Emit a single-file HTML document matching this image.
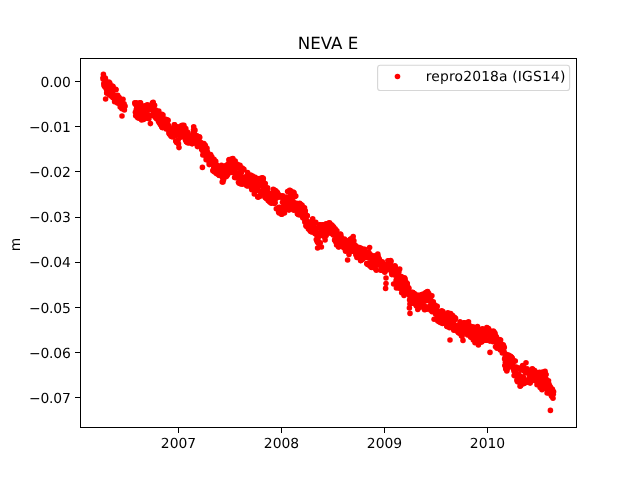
<!DOCTYPE html>
<html lang="en">
<head>
<meta charset="utf-8">
<title>NEVA E</title>
<style>html,body{margin:0;padding:0;background:#fff;overflow:hidden}svg{will-change:transform;-webkit-font-smoothing:antialiased}text{text-rendering:geometricPrecision}body{width:640px;height:480px}</style>
</head>
<body>
<svg width="640" height="480" viewBox="0 0 640 480" style="display:block;font-family:'DejaVu Sans','Liberation Sans',sans-serif">
<rect x="0" y="0" width="640" height="480" fill="#ffffff"/>
<g fill="#ff0000"><circle cx="103.0" cy="78.9" r="2.78"/><circle cx="103.3" cy="77.5" r="2.78"/><circle cx="103.6" cy="77.3" r="2.78"/><circle cx="103.8" cy="83.5" r="2.78"/><circle cx="104.1" cy="85.6" r="2.78"/><circle cx="104.4" cy="86.0" r="2.78"/><circle cx="104.7" cy="84.6" r="2.78"/><circle cx="105.0" cy="86.9" r="2.78"/><circle cx="105.3" cy="78.0" r="2.78"/><circle cx="105.5" cy="79.0" r="2.78"/><circle cx="105.8" cy="84.1" r="2.78"/><circle cx="106.1" cy="83.9" r="2.78"/><circle cx="106.4" cy="89.2" r="2.78"/><circle cx="106.7" cy="92.9" r="2.78"/><circle cx="106.9" cy="93.0" r="2.78"/><circle cx="107.2" cy="82.8" r="2.78"/><circle cx="107.5" cy="85.6" r="2.78"/><circle cx="107.8" cy="89.8" r="2.78"/><circle cx="108.1" cy="83.2" r="2.78"/><circle cx="108.4" cy="91.9" r="2.78"/><circle cx="108.6" cy="86.7" r="2.78"/><circle cx="108.9" cy="82.1" r="2.78"/><circle cx="109.2" cy="94.8" r="2.78"/><circle cx="109.5" cy="82.9" r="2.78"/><circle cx="109.8" cy="83.4" r="2.78"/><circle cx="110.0" cy="89.7" r="2.78"/><circle cx="110.3" cy="90.1" r="2.78"/><circle cx="110.6" cy="94.6" r="2.78"/><circle cx="110.9" cy="96.1" r="2.78"/><circle cx="111.2" cy="87.9" r="2.78"/><circle cx="111.5" cy="91.6" r="2.78"/><circle cx="111.7" cy="86.8" r="2.78"/><circle cx="112.0" cy="87.6" r="2.78"/><circle cx="112.3" cy="86.1" r="2.78"/><circle cx="112.6" cy="91.2" r="2.78"/><circle cx="112.9" cy="97.8" r="2.78"/><circle cx="113.1" cy="86.5" r="2.78"/><circle cx="113.4" cy="89.8" r="2.78"/><circle cx="113.7" cy="94.9" r="2.78"/><circle cx="114.0" cy="96.1" r="2.78"/><circle cx="114.3" cy="97.6" r="2.78"/><circle cx="114.6" cy="101.8" r="2.78"/><circle cx="114.8" cy="101.0" r="2.78"/><circle cx="115.1" cy="98.7" r="2.78"/><circle cx="115.4" cy="99.3" r="2.78"/><circle cx="115.7" cy="89.4" r="2.78"/><circle cx="116.0" cy="89.7" r="2.78"/><circle cx="116.2" cy="100.4" r="2.78"/><circle cx="116.5" cy="100.1" r="2.78"/><circle cx="116.8" cy="96.4" r="2.78"/><circle cx="117.1" cy="100.9" r="2.78"/><circle cx="117.4" cy="103.1" r="2.78"/><circle cx="117.7" cy="95.4" r="2.78"/><circle cx="117.9" cy="100.5" r="2.78"/><circle cx="118.2" cy="101.5" r="2.78"/><circle cx="118.5" cy="100.4" r="2.78"/><circle cx="118.8" cy="97.3" r="2.78"/><circle cx="119.1" cy="97.5" r="2.78"/><circle cx="119.3" cy="98.9" r="2.78"/><circle cx="119.6" cy="99.8" r="2.78"/><circle cx="119.9" cy="103.5" r="2.78"/><circle cx="120.2" cy="107.1" r="2.78"/><circle cx="120.5" cy="104.1" r="2.78"/><circle cx="120.8" cy="105.3" r="2.78"/><circle cx="121.0" cy="103.4" r="2.78"/><circle cx="121.3" cy="103.7" r="2.78"/><circle cx="121.6" cy="106.9" r="2.78"/><circle cx="121.9" cy="108.7" r="2.78"/><circle cx="122.2" cy="103.6" r="2.78"/><circle cx="122.4" cy="107.3" r="2.78"/><circle cx="122.7" cy="104.7" r="2.78"/><circle cx="123.0" cy="99.3" r="2.78"/><circle cx="123.3" cy="104.6" r="2.78"/><circle cx="123.6" cy="105.8" r="2.78"/><circle cx="123.9" cy="106.2" r="2.78"/><circle cx="124.1" cy="103.9" r="2.78"/><circle cx="124.4" cy="109.9" r="2.78"/><circle cx="124.7" cy="106.5" r="2.78"/><circle cx="125.0" cy="106.0" r="2.78"/><circle cx="134.8" cy="102.8" r="2.78"/><circle cx="135.1" cy="103.9" r="2.78"/><circle cx="135.4" cy="112.3" r="2.78"/><circle cx="135.7" cy="115.8" r="2.78"/><circle cx="136.0" cy="104.8" r="2.78"/><circle cx="136.3" cy="109.6" r="2.78"/><circle cx="136.5" cy="102.8" r="2.78"/><circle cx="136.8" cy="107.2" r="2.78"/><circle cx="137.1" cy="107.0" r="2.78"/><circle cx="137.4" cy="117.2" r="2.78"/><circle cx="137.7" cy="111.7" r="2.78"/><circle cx="137.9" cy="113.4" r="2.78"/><circle cx="138.2" cy="117.9" r="2.78"/><circle cx="138.5" cy="112.5" r="2.78"/><circle cx="138.8" cy="114.7" r="2.78"/><circle cx="139.1" cy="116.8" r="2.78"/><circle cx="139.4" cy="118.3" r="2.78"/><circle cx="139.6" cy="116.8" r="2.78"/><circle cx="139.9" cy="102.8" r="2.78"/><circle cx="140.2" cy="106.6" r="2.78"/><circle cx="140.5" cy="102.8" r="2.78"/><circle cx="140.8" cy="117.7" r="2.78"/><circle cx="141.0" cy="112.4" r="2.78"/><circle cx="141.3" cy="108.5" r="2.78"/><circle cx="141.6" cy="120.0" r="2.78"/><circle cx="141.9" cy="118.6" r="2.78"/><circle cx="142.2" cy="113.2" r="2.78"/><circle cx="142.5" cy="113.9" r="2.78"/><circle cx="142.7" cy="106.0" r="2.78"/><circle cx="143.0" cy="113.4" r="2.78"/><circle cx="143.3" cy="110.9" r="2.78"/><circle cx="143.6" cy="119.4" r="2.78"/><circle cx="143.9" cy="117.3" r="2.78"/><circle cx="144.1" cy="117.4" r="2.78"/><circle cx="144.4" cy="113.0" r="2.78"/><circle cx="144.7" cy="114.6" r="2.78"/><circle cx="145.0" cy="105.8" r="2.78"/><circle cx="145.3" cy="108.2" r="2.78"/><circle cx="145.6" cy="106.3" r="2.78"/><circle cx="145.8" cy="113.8" r="2.78"/><circle cx="146.1" cy="116.6" r="2.78"/><circle cx="146.4" cy="115.5" r="2.78"/><circle cx="146.7" cy="118.3" r="2.78"/><circle cx="147.0" cy="115.1" r="2.78"/><circle cx="147.2" cy="104.9" r="2.78"/><circle cx="147.5" cy="109.0" r="2.78"/><circle cx="147.8" cy="105.2" r="2.78"/><circle cx="148.1" cy="108.0" r="2.78"/><circle cx="148.4" cy="109.6" r="2.78"/><circle cx="148.7" cy="114.9" r="2.78"/><circle cx="148.9" cy="118.8" r="2.78"/><circle cx="149.2" cy="108.0" r="2.78"/><circle cx="149.5" cy="115.7" r="2.78"/><circle cx="149.8" cy="105.7" r="2.78"/><circle cx="150.1" cy="115.8" r="2.78"/><circle cx="150.3" cy="115.5" r="2.78"/><circle cx="150.6" cy="107.5" r="2.78"/><circle cx="150.9" cy="105.4" r="2.78"/><circle cx="151.2" cy="109.4" r="2.78"/><circle cx="151.5" cy="105.8" r="2.78"/><circle cx="151.8" cy="105.4" r="2.78"/><circle cx="152.0" cy="106.5" r="2.78"/><circle cx="152.3" cy="103.2" r="2.78"/><circle cx="152.6" cy="102.9" r="2.78"/><circle cx="152.9" cy="107.1" r="2.78"/><circle cx="153.2" cy="102.3" r="2.78"/><circle cx="153.4" cy="104.6" r="2.78"/><circle cx="153.7" cy="112.4" r="2.78"/><circle cx="154.0" cy="112.4" r="2.78"/><circle cx="154.3" cy="116.0" r="2.78"/><circle cx="154.6" cy="105.2" r="2.78"/><circle cx="154.9" cy="116.7" r="2.78"/><circle cx="155.1" cy="110.3" r="2.78"/><circle cx="155.4" cy="109.8" r="2.78"/><circle cx="155.7" cy="117.7" r="2.78"/><circle cx="156.0" cy="114.4" r="2.78"/><circle cx="156.3" cy="116.0" r="2.78"/><circle cx="156.5" cy="118.7" r="2.78"/><circle cx="156.8" cy="113.1" r="2.78"/><circle cx="157.1" cy="117.1" r="2.78"/><circle cx="157.4" cy="114.0" r="2.78"/><circle cx="157.7" cy="111.8" r="2.78"/><circle cx="158.0" cy="116.4" r="2.78"/><circle cx="158.2" cy="111.5" r="2.78"/><circle cx="158.5" cy="121.6" r="2.78"/><circle cx="158.8" cy="111.1" r="2.78"/><circle cx="159.1" cy="121.6" r="2.78"/><circle cx="159.4" cy="123.0" r="2.78"/><circle cx="159.6" cy="121.8" r="2.78"/><circle cx="159.9" cy="118.6" r="2.78"/><circle cx="160.2" cy="114.8" r="2.78"/><circle cx="160.5" cy="124.8" r="2.78"/><circle cx="160.8" cy="114.5" r="2.78"/><circle cx="161.1" cy="119.7" r="2.78"/><circle cx="161.3" cy="114.7" r="2.78"/><circle cx="161.6" cy="126.6" r="2.78"/><circle cx="161.9" cy="114.4" r="2.78"/><circle cx="162.2" cy="127.4" r="2.78"/><circle cx="162.5" cy="127.6" r="2.78"/><circle cx="162.7" cy="123.3" r="2.78"/><circle cx="163.0" cy="115.0" r="2.78"/><circle cx="163.3" cy="121.4" r="2.78"/><circle cx="163.6" cy="118.7" r="2.78"/><circle cx="163.9" cy="123.4" r="2.78"/><circle cx="164.2" cy="124.7" r="2.78"/><circle cx="164.4" cy="125.8" r="2.78"/><circle cx="164.7" cy="120.2" r="2.78"/><circle cx="165.0" cy="122.1" r="2.78"/><circle cx="165.3" cy="123.4" r="2.78"/><circle cx="165.6" cy="124.2" r="2.78"/><circle cx="165.8" cy="119.3" r="2.78"/><circle cx="166.1" cy="129.0" r="2.78"/><circle cx="166.4" cy="125.5" r="2.78"/><circle cx="166.7" cy="123.4" r="2.78"/><circle cx="167.0" cy="122.5" r="2.78"/><circle cx="167.3" cy="124.8" r="2.78"/><circle cx="167.5" cy="120.1" r="2.78"/><circle cx="167.8" cy="127.6" r="2.78"/><circle cx="168.1" cy="120.4" r="2.78"/><circle cx="168.4" cy="125.4" r="2.78"/><circle cx="168.7" cy="127.1" r="2.78"/><circle cx="168.9" cy="133.0" r="2.78"/><circle cx="169.2" cy="131.3" r="2.78"/><circle cx="169.5" cy="134.2" r="2.78"/><circle cx="169.8" cy="128.5" r="2.78"/><circle cx="170.1" cy="133.2" r="2.78"/><circle cx="170.4" cy="133.2" r="2.78"/><circle cx="170.6" cy="134.1" r="2.78"/><circle cx="170.9" cy="135.9" r="2.78"/><circle cx="171.2" cy="131.6" r="2.78"/><circle cx="171.5" cy="136.6" r="2.78"/><circle cx="171.8" cy="133.6" r="2.78"/><circle cx="172.0" cy="132.7" r="2.78"/><circle cx="172.3" cy="129.4" r="2.78"/><circle cx="172.6" cy="135.6" r="2.78"/><circle cx="172.9" cy="133.1" r="2.78"/><circle cx="173.2" cy="136.9" r="2.78"/><circle cx="173.5" cy="133.9" r="2.78"/><circle cx="173.7" cy="135.3" r="2.78"/><circle cx="174.0" cy="126.5" r="2.78"/><circle cx="174.3" cy="124.7" r="2.78"/><circle cx="174.6" cy="124.9" r="2.78"/><circle cx="174.9" cy="132.7" r="2.78"/><circle cx="175.1" cy="133.0" r="2.78"/><circle cx="175.4" cy="126.2" r="2.78"/><circle cx="175.7" cy="141.0" r="2.78"/><circle cx="176.0" cy="135.4" r="2.78"/><circle cx="176.3" cy="127.9" r="2.78"/><circle cx="176.5" cy="142.4" r="2.78"/><circle cx="176.8" cy="130.8" r="2.78"/><circle cx="177.1" cy="127.0" r="2.78"/><circle cx="177.4" cy="127.3" r="2.78"/><circle cx="177.7" cy="127.5" r="2.78"/><circle cx="178.0" cy="135.0" r="2.78"/><circle cx="178.2" cy="140.1" r="2.78"/><circle cx="178.5" cy="143.9" r="2.78"/><circle cx="178.8" cy="131.5" r="2.78"/><circle cx="179.1" cy="127.1" r="2.78"/><circle cx="179.4" cy="132.9" r="2.78"/><circle cx="179.6" cy="127.4" r="2.78"/><circle cx="179.9" cy="131.1" r="2.78"/><circle cx="180.2" cy="130.7" r="2.78"/><circle cx="180.5" cy="129.2" r="2.78"/><circle cx="180.8" cy="137.3" r="2.78"/><circle cx="181.1" cy="131.1" r="2.78"/><circle cx="181.3" cy="125.7" r="2.78"/><circle cx="181.6" cy="130.9" r="2.78"/><circle cx="181.9" cy="128.6" r="2.78"/><circle cx="182.2" cy="125.4" r="2.78"/><circle cx="182.5" cy="129.8" r="2.78"/><circle cx="182.7" cy="136.4" r="2.78"/><circle cx="183.0" cy="129.0" r="2.78"/><circle cx="183.3" cy="132.2" r="2.78"/><circle cx="183.6" cy="136.0" r="2.78"/><circle cx="183.9" cy="125.2" r="2.78"/><circle cx="184.2" cy="127.6" r="2.78"/><circle cx="184.4" cy="128.3" r="2.78"/><circle cx="184.7" cy="130.0" r="2.78"/><circle cx="185.0" cy="130.8" r="2.78"/><circle cx="185.3" cy="138.1" r="2.78"/><circle cx="185.6" cy="140.3" r="2.78"/><circle cx="185.8" cy="128.5" r="2.78"/><circle cx="186.1" cy="135.8" r="2.78"/><circle cx="186.4" cy="141.8" r="2.78"/><circle cx="186.7" cy="142.0" r="2.78"/><circle cx="187.0" cy="142.0" r="2.78"/><circle cx="187.3" cy="136.5" r="2.78"/><circle cx="187.5" cy="132.0" r="2.78"/><circle cx="187.8" cy="134.4" r="2.78"/><circle cx="188.1" cy="143.0" r="2.78"/><circle cx="188.4" cy="135.8" r="2.78"/><circle cx="188.7" cy="139.0" r="2.78"/><circle cx="188.9" cy="135.9" r="2.78"/><circle cx="189.2" cy="140.4" r="2.78"/><circle cx="189.5" cy="142.7" r="2.78"/><circle cx="189.8" cy="139.9" r="2.78"/><circle cx="190.1" cy="136.3" r="2.78"/><circle cx="190.4" cy="137.7" r="2.78"/><circle cx="190.6" cy="138.0" r="2.78"/><circle cx="190.9" cy="139.5" r="2.78"/><circle cx="191.2" cy="139.6" r="2.78"/><circle cx="191.5" cy="139.5" r="2.78"/><circle cx="191.8" cy="136.7" r="2.78"/><circle cx="192.0" cy="143.7" r="2.78"/><circle cx="192.3" cy="143.6" r="2.78"/><circle cx="192.6" cy="139.5" r="2.78"/><circle cx="192.9" cy="133.1" r="2.78"/><circle cx="193.2" cy="137.9" r="2.78"/><circle cx="193.5" cy="130.1" r="2.78"/><circle cx="193.7" cy="126.8" r="2.78"/><circle cx="194.0" cy="134.3" r="2.78"/><circle cx="194.3" cy="134.7" r="2.78"/><circle cx="194.6" cy="130.9" r="2.78"/><circle cx="194.9" cy="130.0" r="2.78"/><circle cx="195.1" cy="138.5" r="2.78"/><circle cx="195.4" cy="138.0" r="2.78"/><circle cx="195.7" cy="137.3" r="2.78"/><circle cx="196.0" cy="143.6" r="2.78"/><circle cx="196.3" cy="139.7" r="2.78"/><circle cx="196.6" cy="135.9" r="2.78"/><circle cx="196.8" cy="135.7" r="2.78"/><circle cx="197.1" cy="141.4" r="2.78"/><circle cx="197.4" cy="146.6" r="2.78"/><circle cx="197.7" cy="139.5" r="2.78"/><circle cx="198.0" cy="139.5" r="2.78"/><circle cx="198.2" cy="143.1" r="2.78"/><circle cx="198.5" cy="143.7" r="2.78"/><circle cx="198.8" cy="142.7" r="2.78"/><circle cx="199.1" cy="144.3" r="2.78"/><circle cx="199.4" cy="136.8" r="2.78"/><circle cx="199.7" cy="137.5" r="2.78"/><circle cx="199.9" cy="141.7" r="2.78"/><circle cx="200.2" cy="142.5" r="2.78"/><circle cx="200.5" cy="144.9" r="2.78"/><circle cx="200.8" cy="145.4" r="2.78"/><circle cx="201.1" cy="142.8" r="2.78"/><circle cx="201.3" cy="143.9" r="2.78"/><circle cx="201.6" cy="149.6" r="2.78"/><circle cx="201.9" cy="148.0" r="2.78"/><circle cx="202.2" cy="149.4" r="2.78"/><circle cx="202.5" cy="150.0" r="2.78"/><circle cx="202.8" cy="155.0" r="2.78"/><circle cx="203.0" cy="150.8" r="2.78"/><circle cx="203.3" cy="151.5" r="2.78"/><circle cx="203.6" cy="152.2" r="2.78"/><circle cx="203.9" cy="143.5" r="2.78"/><circle cx="204.2" cy="151.7" r="2.78"/><circle cx="204.4" cy="153.9" r="2.78"/><circle cx="204.7" cy="147.5" r="2.78"/><circle cx="205.0" cy="151.0" r="2.78"/><circle cx="205.3" cy="145.3" r="2.78"/><circle cx="205.6" cy="150.0" r="2.78"/><circle cx="205.9" cy="156.5" r="2.78"/><circle cx="206.1" cy="159.7" r="2.78"/><circle cx="206.4" cy="150.8" r="2.78"/><circle cx="206.7" cy="157.6" r="2.78"/><circle cx="207.0" cy="148.4" r="2.78"/><circle cx="207.3" cy="156.3" r="2.78"/><circle cx="207.5" cy="152.0" r="2.78"/><circle cx="207.8" cy="155.5" r="2.78"/><circle cx="208.1" cy="155.1" r="2.78"/><circle cx="208.4" cy="160.4" r="2.78"/><circle cx="208.7" cy="159.4" r="2.78"/><circle cx="209.0" cy="159.2" r="2.78"/><circle cx="209.2" cy="164.6" r="2.78"/><circle cx="209.5" cy="163.3" r="2.78"/><circle cx="209.8" cy="163.7" r="2.78"/><circle cx="210.1" cy="158.4" r="2.78"/><circle cx="210.4" cy="159.9" r="2.78"/><circle cx="210.6" cy="154.6" r="2.78"/><circle cx="210.9" cy="161.0" r="2.78"/><circle cx="211.2" cy="163.6" r="2.78"/><circle cx="211.5" cy="158.3" r="2.78"/><circle cx="211.8" cy="156.8" r="2.78"/><circle cx="212.1" cy="161.6" r="2.78"/><circle cx="212.3" cy="164.2" r="2.78"/><circle cx="212.6" cy="162.6" r="2.78"/><circle cx="212.9" cy="170.6" r="2.78"/><circle cx="213.2" cy="170.9" r="2.78"/><circle cx="213.5" cy="162.9" r="2.78"/><circle cx="213.7" cy="168.4" r="2.78"/><circle cx="214.0" cy="159.2" r="2.78"/><circle cx="214.3" cy="168.4" r="2.78"/><circle cx="214.6" cy="172.0" r="2.78"/><circle cx="214.9" cy="168.3" r="2.78"/><circle cx="215.2" cy="170.4" r="2.78"/><circle cx="215.4" cy="167.3" r="2.78"/><circle cx="215.7" cy="161.4" r="2.78"/><circle cx="216.0" cy="168.7" r="2.78"/><circle cx="216.3" cy="173.6" r="2.78"/><circle cx="216.6" cy="168.8" r="2.78"/><circle cx="216.8" cy="165.1" r="2.78"/><circle cx="217.1" cy="169.6" r="2.78"/><circle cx="217.4" cy="168.6" r="2.78"/><circle cx="217.7" cy="172.1" r="2.78"/><circle cx="218.0" cy="169.9" r="2.78"/><circle cx="218.3" cy="171.3" r="2.78"/><circle cx="218.5" cy="174.4" r="2.78"/><circle cx="218.8" cy="166.8" r="2.78"/><circle cx="219.1" cy="175.2" r="2.78"/><circle cx="219.4" cy="175.5" r="2.78"/><circle cx="219.7" cy="174.9" r="2.78"/><circle cx="219.9" cy="171.4" r="2.78"/><circle cx="220.2" cy="172.4" r="2.78"/><circle cx="220.5" cy="169.1" r="2.78"/><circle cx="220.8" cy="173.0" r="2.78"/><circle cx="221.1" cy="173.1" r="2.78"/><circle cx="221.4" cy="165.4" r="2.78"/><circle cx="221.6" cy="176.1" r="2.78"/><circle cx="221.9" cy="175.7" r="2.78"/><circle cx="222.2" cy="182.0" r="2.78"/><circle cx="222.5" cy="176.8" r="2.78"/><circle cx="222.8" cy="178.2" r="2.78"/><circle cx="223.0" cy="175.4" r="2.78"/><circle cx="223.3" cy="175.8" r="2.78"/><circle cx="223.6" cy="179.7" r="2.78"/><circle cx="223.9" cy="176.7" r="2.78"/><circle cx="224.2" cy="176.3" r="2.78"/><circle cx="224.5" cy="172.0" r="2.78"/><circle cx="224.7" cy="170.7" r="2.78"/><circle cx="225.0" cy="165.8" r="2.78"/><circle cx="225.3" cy="166.7" r="2.78"/><circle cx="225.6" cy="167.6" r="2.78"/><circle cx="225.9" cy="172.6" r="2.78"/><circle cx="226.1" cy="167.7" r="2.78"/><circle cx="226.4" cy="176.6" r="2.78"/><circle cx="226.7" cy="171.3" r="2.78"/><circle cx="227.0" cy="173.3" r="2.78"/><circle cx="227.3" cy="175.3" r="2.78"/><circle cx="227.6" cy="164.6" r="2.78"/><circle cx="227.8" cy="171.6" r="2.78"/><circle cx="228.1" cy="173.5" r="2.78"/><circle cx="228.4" cy="163.9" r="2.78"/><circle cx="228.7" cy="171.5" r="2.78"/><circle cx="229.0" cy="160.1" r="2.78"/><circle cx="229.2" cy="159.5" r="2.78"/><circle cx="229.5" cy="162.8" r="2.78"/><circle cx="229.8" cy="163.0" r="2.78"/><circle cx="230.1" cy="161.8" r="2.78"/><circle cx="230.4" cy="161.6" r="2.78"/><circle cx="230.7" cy="167.9" r="2.78"/><circle cx="230.9" cy="172.5" r="2.78"/><circle cx="231.2" cy="163.4" r="2.78"/><circle cx="231.5" cy="167.4" r="2.78"/><circle cx="231.8" cy="160.5" r="2.78"/><circle cx="232.1" cy="158.7" r="2.78"/><circle cx="232.3" cy="167.0" r="2.78"/><circle cx="232.6" cy="163.1" r="2.78"/><circle cx="232.9" cy="158.6" r="2.78"/><circle cx="233.2" cy="171.1" r="2.78"/><circle cx="233.5" cy="172.5" r="2.78"/><circle cx="233.8" cy="171.9" r="2.78"/><circle cx="234.0" cy="171.1" r="2.78"/><circle cx="234.3" cy="168.6" r="2.78"/><circle cx="234.6" cy="177.4" r="2.78"/><circle cx="234.9" cy="169.9" r="2.78"/><circle cx="235.2" cy="161.0" r="2.78"/><circle cx="235.4" cy="173.5" r="2.78"/><circle cx="235.7" cy="173.1" r="2.78"/><circle cx="236.0" cy="177.7" r="2.78"/><circle cx="236.3" cy="164.6" r="2.78"/><circle cx="236.6" cy="172.7" r="2.78"/><circle cx="236.9" cy="166.8" r="2.78"/><circle cx="237.1" cy="173.5" r="2.78"/><circle cx="237.4" cy="164.3" r="2.78"/><circle cx="237.7" cy="174.4" r="2.78"/><circle cx="238.0" cy="173.7" r="2.78"/><circle cx="238.3" cy="167.7" r="2.78"/><circle cx="238.5" cy="182.2" r="2.78"/><circle cx="238.8" cy="173.9" r="2.78"/><circle cx="239.1" cy="183.3" r="2.78"/><circle cx="239.4" cy="177.1" r="2.78"/><circle cx="239.7" cy="174.8" r="2.78"/><circle cx="240.0" cy="165.2" r="2.78"/><circle cx="240.2" cy="179.3" r="2.78"/><circle cx="240.5" cy="171.7" r="2.78"/><circle cx="240.8" cy="184.0" r="2.78"/><circle cx="241.1" cy="179.3" r="2.78"/><circle cx="241.4" cy="176.3" r="2.78"/><circle cx="241.6" cy="172.3" r="2.78"/><circle cx="241.9" cy="179.7" r="2.78"/><circle cx="242.2" cy="168.0" r="2.78"/><circle cx="242.5" cy="184.2" r="2.78"/><circle cx="242.8" cy="181.1" r="2.78"/><circle cx="243.1" cy="182.7" r="2.78"/><circle cx="243.3" cy="169.4" r="2.78"/><circle cx="243.6" cy="182.0" r="2.78"/><circle cx="243.9" cy="169.4" r="2.78"/><circle cx="244.2" cy="183.4" r="2.78"/><circle cx="244.5" cy="183.1" r="2.78"/><circle cx="244.7" cy="183.0" r="2.78"/><circle cx="245.0" cy="181.6" r="2.78"/><circle cx="245.3" cy="181.3" r="2.78"/><circle cx="245.6" cy="180.8" r="2.78"/><circle cx="245.9" cy="178.7" r="2.78"/><circle cx="246.2" cy="182.0" r="2.78"/><circle cx="246.4" cy="176.4" r="2.78"/><circle cx="246.7" cy="185.7" r="2.78"/><circle cx="247.0" cy="177.2" r="2.78"/><circle cx="247.3" cy="183.6" r="2.78"/><circle cx="247.6" cy="172.6" r="2.78"/><circle cx="247.8" cy="186.0" r="2.78"/><circle cx="248.1" cy="181.6" r="2.78"/><circle cx="248.4" cy="181.0" r="2.78"/><circle cx="248.7" cy="175.9" r="2.78"/><circle cx="249.0" cy="176.1" r="2.78"/><circle cx="249.3" cy="180.4" r="2.78"/><circle cx="249.5" cy="179.3" r="2.78"/><circle cx="249.8" cy="178.2" r="2.78"/><circle cx="250.1" cy="184.4" r="2.78"/><circle cx="250.4" cy="181.4" r="2.78"/><circle cx="250.7" cy="175.1" r="2.78"/><circle cx="250.9" cy="182.0" r="2.78"/><circle cx="251.2" cy="181.4" r="2.78"/><circle cx="251.5" cy="188.2" r="2.78"/><circle cx="251.8" cy="189.7" r="2.78"/><circle cx="252.1" cy="184.6" r="2.78"/><circle cx="252.4" cy="182.2" r="2.78"/><circle cx="252.6" cy="176.1" r="2.78"/><circle cx="252.9" cy="183.0" r="2.78"/><circle cx="253.2" cy="181.0" r="2.78"/><circle cx="253.5" cy="183.8" r="2.78"/><circle cx="253.8" cy="178.1" r="2.78"/><circle cx="254.0" cy="178.5" r="2.78"/><circle cx="254.3" cy="194.0" r="2.78"/><circle cx="254.6" cy="180.7" r="2.78"/><circle cx="254.9" cy="183.1" r="2.78"/><circle cx="255.2" cy="177.4" r="2.78"/><circle cx="255.5" cy="191.4" r="2.78"/><circle cx="255.7" cy="185.0" r="2.78"/><circle cx="256.0" cy="187.0" r="2.78"/><circle cx="256.3" cy="186.3" r="2.78"/><circle cx="256.6" cy="180.7" r="2.78"/><circle cx="256.9" cy="188.9" r="2.78"/><circle cx="257.1" cy="183.1" r="2.78"/><circle cx="257.4" cy="188.4" r="2.78"/><circle cx="257.7" cy="197.0" r="2.78"/><circle cx="258.0" cy="178.8" r="2.78"/><circle cx="258.3" cy="197.1" r="2.78"/><circle cx="258.6" cy="196.5" r="2.78"/><circle cx="258.8" cy="183.9" r="2.78"/><circle cx="259.1" cy="185.6" r="2.78"/><circle cx="259.4" cy="178.5" r="2.78"/><circle cx="259.7" cy="196.5" r="2.78"/><circle cx="260.0" cy="184.2" r="2.78"/><circle cx="260.2" cy="184.4" r="2.78"/><circle cx="260.5" cy="191.6" r="2.78"/><circle cx="260.8" cy="193.1" r="2.78"/><circle cx="261.1" cy="185.8" r="2.78"/><circle cx="261.4" cy="184.1" r="2.78"/><circle cx="261.7" cy="183.6" r="2.78"/><circle cx="261.9" cy="178.0" r="2.78"/><circle cx="262.2" cy="177.9" r="2.78"/><circle cx="262.5" cy="183.5" r="2.78"/><circle cx="262.8" cy="187.2" r="2.78"/><circle cx="263.1" cy="180.4" r="2.78"/><circle cx="263.3" cy="178.4" r="2.78"/><circle cx="263.6" cy="187.7" r="2.78"/><circle cx="263.9" cy="185.4" r="2.78"/><circle cx="264.2" cy="190.3" r="2.78"/><circle cx="264.5" cy="194.6" r="2.78"/><circle cx="264.8" cy="197.0" r="2.78"/><circle cx="265.0" cy="187.2" r="2.78"/><circle cx="265.3" cy="183.6" r="2.78"/><circle cx="265.6" cy="197.8" r="2.78"/><circle cx="265.9" cy="194.7" r="2.78"/><circle cx="266.2" cy="198.4" r="2.78"/><circle cx="266.4" cy="191.0" r="2.78"/><circle cx="266.7" cy="194.6" r="2.78"/><circle cx="267.0" cy="196.7" r="2.78"/><circle cx="267.3" cy="191.0" r="2.78"/><circle cx="267.6" cy="187.9" r="2.78"/><circle cx="267.9" cy="193.7" r="2.78"/><circle cx="268.1" cy="200.4" r="2.78"/><circle cx="268.4" cy="198.9" r="2.78"/><circle cx="268.7" cy="196.5" r="2.78"/><circle cx="269.0" cy="201.1" r="2.78"/><circle cx="269.3" cy="200.4" r="2.78"/><circle cx="269.5" cy="198.5" r="2.78"/><circle cx="269.8" cy="202.0" r="2.78"/><circle cx="270.1" cy="194.6" r="2.78"/><circle cx="270.4" cy="194.1" r="2.78"/><circle cx="270.7" cy="198.6" r="2.78"/><circle cx="271.0" cy="202.9" r="2.78"/><circle cx="271.2" cy="193.5" r="2.78"/><circle cx="271.5" cy="203.1" r="2.78"/><circle cx="271.8" cy="195.2" r="2.78"/><circle cx="272.1" cy="193.6" r="2.78"/><circle cx="272.4" cy="199.7" r="2.78"/><circle cx="272.6" cy="198.6" r="2.78"/><circle cx="272.9" cy="201.3" r="2.78"/><circle cx="273.2" cy="189.2" r="2.78"/><circle cx="273.5" cy="191.3" r="2.78"/><circle cx="273.8" cy="191.3" r="2.78"/><circle cx="274.1" cy="190.1" r="2.78"/><circle cx="274.3" cy="203.5" r="2.78"/><circle cx="274.6" cy="198.6" r="2.78"/><circle cx="274.9" cy="198.8" r="2.78"/><circle cx="275.2" cy="202.7" r="2.78"/><circle cx="275.5" cy="190.5" r="2.78"/><circle cx="275.7" cy="194.7" r="2.78"/><circle cx="276.0" cy="198.5" r="2.78"/><circle cx="276.3" cy="208.7" r="2.78"/><circle cx="276.6" cy="192.1" r="2.78"/><circle cx="276.9" cy="192.1" r="2.78"/><circle cx="277.2" cy="194.3" r="2.78"/><circle cx="277.4" cy="192.8" r="2.78"/><circle cx="277.7" cy="197.3" r="2.78"/><circle cx="278.0" cy="193.9" r="2.78"/><circle cx="278.3" cy="207.8" r="2.78"/><circle cx="278.6" cy="212.1" r="2.78"/><circle cx="278.8" cy="207.5" r="2.78"/><circle cx="279.1" cy="212.9" r="2.78"/><circle cx="279.4" cy="209.4" r="2.78"/><circle cx="279.7" cy="207.2" r="2.78"/><circle cx="280.0" cy="197.1" r="2.78"/><circle cx="280.3" cy="195.8" r="2.78"/><circle cx="280.5" cy="211.0" r="2.78"/><circle cx="280.8" cy="210.2" r="2.78"/><circle cx="281.1" cy="196.2" r="2.78"/><circle cx="281.4" cy="214.2" r="2.78"/><circle cx="281.7" cy="208.5" r="2.78"/><circle cx="281.9" cy="214.2" r="2.78"/><circle cx="282.2" cy="210.1" r="2.78"/><circle cx="282.5" cy="202.3" r="2.78"/><circle cx="282.8" cy="195.9" r="2.78"/><circle cx="283.1" cy="199.1" r="2.78"/><circle cx="283.4" cy="206.4" r="2.78"/><circle cx="283.6" cy="201.3" r="2.78"/><circle cx="283.9" cy="208.8" r="2.78"/><circle cx="284.2" cy="207.2" r="2.78"/><circle cx="284.5" cy="213.0" r="2.78"/><circle cx="284.8" cy="205.8" r="2.78"/><circle cx="285.0" cy="205.3" r="2.78"/><circle cx="285.3" cy="201.6" r="2.78"/><circle cx="285.6" cy="210.1" r="2.78"/><circle cx="285.9" cy="204.3" r="2.78"/><circle cx="286.2" cy="205.8" r="2.78"/><circle cx="286.5" cy="197.0" r="2.78"/><circle cx="286.7" cy="199.0" r="2.78"/><circle cx="287.0" cy="199.0" r="2.78"/><circle cx="287.3" cy="204.2" r="2.78"/><circle cx="287.6" cy="191.6" r="2.78"/><circle cx="287.9" cy="206.5" r="2.78"/><circle cx="288.1" cy="197.6" r="2.78"/><circle cx="288.4" cy="206.7" r="2.78"/><circle cx="288.7" cy="205.6" r="2.78"/><circle cx="289.0" cy="210.1" r="2.78"/><circle cx="289.3" cy="202.0" r="2.78"/><circle cx="289.6" cy="190.4" r="2.78"/><circle cx="289.8" cy="207.6" r="2.78"/><circle cx="290.1" cy="209.2" r="2.78"/><circle cx="290.4" cy="190.6" r="2.78"/><circle cx="290.7" cy="193.8" r="2.78"/><circle cx="291.0" cy="199.3" r="2.78"/><circle cx="291.2" cy="197.5" r="2.78"/><circle cx="291.5" cy="199.4" r="2.78"/><circle cx="291.8" cy="205.3" r="2.78"/><circle cx="292.1" cy="200.1" r="2.78"/><circle cx="292.4" cy="205.2" r="2.78"/><circle cx="292.7" cy="205.6" r="2.78"/><circle cx="292.9" cy="193.0" r="2.78"/><circle cx="293.2" cy="192.0" r="2.78"/><circle cx="293.5" cy="202.0" r="2.78"/><circle cx="293.8" cy="210.2" r="2.78"/><circle cx="294.1" cy="192.9" r="2.78"/><circle cx="294.3" cy="207.6" r="2.78"/><circle cx="294.6" cy="196.7" r="2.78"/><circle cx="294.9" cy="209.6" r="2.78"/><circle cx="295.2" cy="203.8" r="2.78"/><circle cx="295.5" cy="209.8" r="2.78"/><circle cx="295.8" cy="196.0" r="2.78"/><circle cx="296.0" cy="207.4" r="2.78"/><circle cx="296.3" cy="209.3" r="2.78"/><circle cx="296.6" cy="203.4" r="2.78"/><circle cx="296.9" cy="206.6" r="2.78"/><circle cx="297.2" cy="208.4" r="2.78"/><circle cx="297.4" cy="213.7" r="2.78"/><circle cx="297.7" cy="213.9" r="2.78"/><circle cx="298.0" cy="213.6" r="2.78"/><circle cx="298.3" cy="206.4" r="2.78"/><circle cx="298.6" cy="214.8" r="2.78"/><circle cx="298.9" cy="212.7" r="2.78"/><circle cx="299.1" cy="210.3" r="2.78"/><circle cx="299.4" cy="210.3" r="2.78"/><circle cx="299.7" cy="203.2" r="2.78"/><circle cx="300.0" cy="204.0" r="2.78"/><circle cx="300.3" cy="214.9" r="2.78"/><circle cx="300.5" cy="211.4" r="2.78"/><circle cx="300.8" cy="209.4" r="2.78"/><circle cx="301.1" cy="205.1" r="2.78"/><circle cx="301.4" cy="209.9" r="2.78"/><circle cx="301.7" cy="205.0" r="2.78"/><circle cx="302.0" cy="205.2" r="2.78"/><circle cx="302.2" cy="209.5" r="2.78"/><circle cx="302.5" cy="208.5" r="2.78"/><circle cx="302.8" cy="217.5" r="2.78"/><circle cx="303.1" cy="218.1" r="2.78"/><circle cx="303.4" cy="208.5" r="2.78"/><circle cx="303.6" cy="211.2" r="2.78"/><circle cx="303.9" cy="214.2" r="2.78"/><circle cx="304.2" cy="208.1" r="2.78"/><circle cx="304.5" cy="207.8" r="2.78"/><circle cx="304.8" cy="221.9" r="2.78"/><circle cx="305.1" cy="212.4" r="2.78"/><circle cx="305.3" cy="210.7" r="2.78"/><circle cx="305.6" cy="218.8" r="2.78"/><circle cx="305.9" cy="225.7" r="2.78"/><circle cx="306.2" cy="221.0" r="2.78"/><circle cx="306.5" cy="226.5" r="2.78"/><circle cx="306.7" cy="216.5" r="2.78"/><circle cx="307.0" cy="215.5" r="2.78"/><circle cx="307.3" cy="215.7" r="2.78"/><circle cx="307.6" cy="221.2" r="2.78"/><circle cx="307.9" cy="225.9" r="2.78"/><circle cx="308.2" cy="222.5" r="2.78"/><circle cx="308.4" cy="229.1" r="2.78"/><circle cx="308.7" cy="225.2" r="2.78"/><circle cx="309.0" cy="227.5" r="2.78"/><circle cx="309.3" cy="226.9" r="2.78"/><circle cx="309.6" cy="225.6" r="2.78"/><circle cx="309.8" cy="225.6" r="2.78"/><circle cx="310.1" cy="230.7" r="2.78"/><circle cx="310.4" cy="226.1" r="2.78"/><circle cx="310.7" cy="231.4" r="2.78"/><circle cx="311.0" cy="226.7" r="2.78"/><circle cx="311.3" cy="231.6" r="2.78"/><circle cx="311.5" cy="222.6" r="2.78"/><circle cx="311.8" cy="224.5" r="2.78"/><circle cx="312.1" cy="231.9" r="2.78"/><circle cx="312.4" cy="227.7" r="2.78"/><circle cx="312.7" cy="218.9" r="2.78"/><circle cx="312.9" cy="224.1" r="2.78"/><circle cx="313.2" cy="222.6" r="2.78"/><circle cx="313.5" cy="222.5" r="2.78"/><circle cx="313.8" cy="224.9" r="2.78"/><circle cx="314.1" cy="228.6" r="2.78"/><circle cx="314.3" cy="226.8" r="2.78"/><circle cx="314.6" cy="231.6" r="2.78"/><circle cx="314.9" cy="233.3" r="2.78"/><circle cx="315.2" cy="233.8" r="2.78"/><circle cx="315.5" cy="228.5" r="2.78"/><circle cx="315.8" cy="222.4" r="2.78"/><circle cx="316.0" cy="229.7" r="2.78"/><circle cx="316.3" cy="239.5" r="2.78"/><circle cx="316.6" cy="234.6" r="2.78"/><circle cx="316.9" cy="240.8" r="2.78"/><circle cx="317.2" cy="235.5" r="2.78"/><circle cx="317.4" cy="242.0" r="2.78"/><circle cx="317.7" cy="233.6" r="2.78"/><circle cx="318.0" cy="239.1" r="2.78"/><circle cx="318.3" cy="243.2" r="2.78"/><circle cx="318.6" cy="236.6" r="2.78"/><circle cx="318.9" cy="233.2" r="2.78"/><circle cx="319.1" cy="243.0" r="2.78"/><circle cx="319.4" cy="226.3" r="2.78"/><circle cx="319.7" cy="224.8" r="2.78"/><circle cx="320.0" cy="224.8" r="2.78"/><circle cx="320.3" cy="242.8" r="2.78"/><circle cx="320.5" cy="227.5" r="2.78"/><circle cx="320.8" cy="229.5" r="2.78"/><circle cx="321.1" cy="225.7" r="2.78"/><circle cx="321.4" cy="233.5" r="2.78"/><circle cx="321.7" cy="231.1" r="2.78"/><circle cx="322.0" cy="231.2" r="2.78"/><circle cx="322.2" cy="228.7" r="2.78"/><circle cx="322.5" cy="224.8" r="2.78"/><circle cx="322.8" cy="235.7" r="2.78"/><circle cx="323.1" cy="231.8" r="2.78"/><circle cx="323.4" cy="224.8" r="2.78"/><circle cx="323.6" cy="232.8" r="2.78"/><circle cx="323.9" cy="231.9" r="2.78"/><circle cx="324.2" cy="224.7" r="2.78"/><circle cx="324.5" cy="236.8" r="2.78"/><circle cx="324.8" cy="224.5" r="2.78"/><circle cx="325.1" cy="239.9" r="2.78"/><circle cx="325.3" cy="226.3" r="2.78"/><circle cx="325.6" cy="229.2" r="2.78"/><circle cx="325.9" cy="224.1" r="2.78"/><circle cx="326.2" cy="235.6" r="2.78"/><circle cx="326.5" cy="231.3" r="2.78"/><circle cx="326.7" cy="223.9" r="2.78"/><circle cx="327.0" cy="233.0" r="2.78"/><circle cx="327.3" cy="229.2" r="2.78"/><circle cx="327.6" cy="226.4" r="2.78"/><circle cx="327.9" cy="227.3" r="2.78"/><circle cx="328.2" cy="228.4" r="2.78"/><circle cx="328.4" cy="223.3" r="2.78"/><circle cx="328.7" cy="223.2" r="2.78"/><circle cx="329.0" cy="228.4" r="2.78"/><circle cx="329.3" cy="231.0" r="2.78"/><circle cx="329.6" cy="222.9" r="2.78"/><circle cx="329.8" cy="231.4" r="2.78"/><circle cx="330.1" cy="228.5" r="2.78"/><circle cx="330.4" cy="233.2" r="2.78"/><circle cx="330.7" cy="232.8" r="2.78"/><circle cx="331.0" cy="232.0" r="2.78"/><circle cx="331.3" cy="224.9" r="2.78"/><circle cx="331.5" cy="231.0" r="2.78"/><circle cx="331.8" cy="226.7" r="2.78"/><circle cx="332.1" cy="225.2" r="2.78"/><circle cx="332.4" cy="228.4" r="2.78"/><circle cx="332.7" cy="226.7" r="2.78"/><circle cx="332.9" cy="230.5" r="2.78"/><circle cx="333.2" cy="235.1" r="2.78"/><circle cx="333.5" cy="226.9" r="2.78"/><circle cx="333.8" cy="230.2" r="2.78"/><circle cx="334.1" cy="229.7" r="2.78"/><circle cx="334.4" cy="233.4" r="2.78"/><circle cx="334.6" cy="240.0" r="2.78"/><circle cx="334.9" cy="239.9" r="2.78"/><circle cx="335.2" cy="228.9" r="2.78"/><circle cx="335.5" cy="241.4" r="2.78"/><circle cx="335.8" cy="241.4" r="2.78"/><circle cx="336.0" cy="235.0" r="2.78"/><circle cx="336.3" cy="240.6" r="2.78"/><circle cx="336.6" cy="244.9" r="2.78"/><circle cx="336.9" cy="230.7" r="2.78"/><circle cx="337.2" cy="240.3" r="2.78"/><circle cx="337.5" cy="240.2" r="2.78"/><circle cx="337.7" cy="235.5" r="2.78"/><circle cx="338.0" cy="239.8" r="2.78"/><circle cx="338.3" cy="243.7" r="2.78"/><circle cx="338.6" cy="246.9" r="2.78"/><circle cx="338.9" cy="246.8" r="2.78"/><circle cx="339.1" cy="244.4" r="2.78"/><circle cx="339.4" cy="238.6" r="2.78"/><circle cx="339.7" cy="238.1" r="2.78"/><circle cx="340.0" cy="246.0" r="2.78"/><circle cx="340.3" cy="234.1" r="2.78"/><circle cx="340.6" cy="239.0" r="2.78"/><circle cx="340.8" cy="234.6" r="2.78"/><circle cx="341.1" cy="236.8" r="2.78"/><circle cx="341.4" cy="245.5" r="2.78"/><circle cx="341.7" cy="238.6" r="2.78"/><circle cx="342.0" cy="242.7" r="2.78"/><circle cx="342.2" cy="241.0" r="2.78"/><circle cx="342.5" cy="245.2" r="2.78"/><circle cx="342.8" cy="246.6" r="2.78"/><circle cx="343.1" cy="242.2" r="2.78"/><circle cx="343.4" cy="243.8" r="2.78"/><circle cx="343.7" cy="241.1" r="2.78"/><circle cx="343.9" cy="248.0" r="2.78"/><circle cx="344.2" cy="245.4" r="2.78"/><circle cx="344.5" cy="239.0" r="2.78"/><circle cx="344.8" cy="244.3" r="2.78"/><circle cx="345.1" cy="244.0" r="2.78"/><circle cx="345.3" cy="242.9" r="2.78"/><circle cx="345.6" cy="251.3" r="2.78"/><circle cx="345.9" cy="240.6" r="2.78"/><circle cx="346.2" cy="249.6" r="2.78"/><circle cx="346.5" cy="249.2" r="2.78"/><circle cx="346.8" cy="245.3" r="2.78"/><circle cx="347.0" cy="246.5" r="2.78"/><circle cx="347.3" cy="247.1" r="2.78"/><circle cx="347.6" cy="241.4" r="2.78"/><circle cx="347.9" cy="242.7" r="2.78"/><circle cx="348.2" cy="249.0" r="2.78"/><circle cx="348.4" cy="248.1" r="2.78"/><circle cx="348.7" cy="241.1" r="2.78"/><circle cx="349.0" cy="254.4" r="2.78"/><circle cx="349.3" cy="244.0" r="2.78"/><circle cx="349.6" cy="246.0" r="2.78"/><circle cx="349.9" cy="243.6" r="2.78"/><circle cx="350.1" cy="239.6" r="2.78"/><circle cx="350.4" cy="246.7" r="2.78"/><circle cx="350.7" cy="239.1" r="2.78"/><circle cx="351.0" cy="251.3" r="2.78"/><circle cx="351.3" cy="245.4" r="2.78"/><circle cx="351.5" cy="238.9" r="2.78"/><circle cx="351.8" cy="242.7" r="2.78"/><circle cx="352.1" cy="250.2" r="2.78"/><circle cx="352.4" cy="239.9" r="2.78"/><circle cx="352.7" cy="251.3" r="2.78"/><circle cx="353.0" cy="243.1" r="2.78"/><circle cx="353.2" cy="236.5" r="2.78"/><circle cx="353.5" cy="240.5" r="2.78"/><circle cx="353.8" cy="240.9" r="2.78"/><circle cx="354.1" cy="244.9" r="2.78"/><circle cx="354.4" cy="251.1" r="2.78"/><circle cx="354.6" cy="247.3" r="2.78"/><circle cx="354.9" cy="245.1" r="2.78"/><circle cx="355.2" cy="246.0" r="2.78"/><circle cx="355.5" cy="248.7" r="2.78"/><circle cx="355.8" cy="254.7" r="2.78"/><circle cx="356.1" cy="248.2" r="2.78"/><circle cx="356.3" cy="246.2" r="2.78"/><circle cx="356.6" cy="248.9" r="2.78"/><circle cx="356.9" cy="257.5" r="2.78"/><circle cx="357.2" cy="253.2" r="2.78"/><circle cx="357.5" cy="251.7" r="2.78"/><circle cx="357.7" cy="249.6" r="2.78"/><circle cx="358.0" cy="255.6" r="2.78"/><circle cx="358.3" cy="249.0" r="2.78"/><circle cx="358.6" cy="257.1" r="2.78"/><circle cx="358.9" cy="257.8" r="2.78"/><circle cx="359.2" cy="256.0" r="2.78"/><circle cx="359.4" cy="247.5" r="2.78"/><circle cx="359.7" cy="249.2" r="2.78"/><circle cx="360.0" cy="250.5" r="2.78"/><circle cx="360.3" cy="248.7" r="2.78"/><circle cx="360.6" cy="260.6" r="2.78"/><circle cx="360.8" cy="260.4" r="2.78"/><circle cx="361.1" cy="248.3" r="2.78"/><circle cx="361.4" cy="248.9" r="2.78"/><circle cx="361.7" cy="252.9" r="2.78"/><circle cx="362.0" cy="257.8" r="2.78"/><circle cx="362.3" cy="258.7" r="2.78"/><circle cx="362.5" cy="259.6" r="2.78"/><circle cx="362.8" cy="255.1" r="2.78"/><circle cx="363.1" cy="256.8" r="2.78"/><circle cx="363.4" cy="251.9" r="2.78"/><circle cx="363.7" cy="249.6" r="2.78"/><circle cx="363.9" cy="255.9" r="2.78"/><circle cx="364.2" cy="249.6" r="2.78"/><circle cx="364.5" cy="252.0" r="2.78"/><circle cx="364.8" cy="249.3" r="2.78"/><circle cx="365.1" cy="257.5" r="2.78"/><circle cx="365.4" cy="257.5" r="2.78"/><circle cx="365.6" cy="254.3" r="2.78"/><circle cx="365.9" cy="257.3" r="2.78"/><circle cx="366.2" cy="254.5" r="2.78"/><circle cx="366.5" cy="252.1" r="2.78"/><circle cx="366.8" cy="263.5" r="2.78"/><circle cx="367.0" cy="263.8" r="2.78"/><circle cx="367.3" cy="254.5" r="2.78"/><circle cx="367.6" cy="264.2" r="2.78"/><circle cx="367.9" cy="264.5" r="2.78"/><circle cx="368.2" cy="256.5" r="2.78"/><circle cx="368.5" cy="258.0" r="2.78"/><circle cx="368.7" cy="252.2" r="2.78"/><circle cx="369.0" cy="253.4" r="2.78"/><circle cx="369.3" cy="258.0" r="2.78"/><circle cx="369.6" cy="247.6" r="2.78"/><circle cx="369.9" cy="266.1" r="2.78"/><circle cx="370.1" cy="264.0" r="2.78"/><circle cx="370.4" cy="262.8" r="2.78"/><circle cx="370.7" cy="254.9" r="2.78"/><circle cx="371.0" cy="266.5" r="2.78"/><circle cx="371.3" cy="267.1" r="2.78"/><circle cx="371.6" cy="267.3" r="2.78"/><circle cx="371.8" cy="267.4" r="2.78"/><circle cx="372.1" cy="258.2" r="2.78"/><circle cx="372.4" cy="257.8" r="2.78"/><circle cx="372.7" cy="261.6" r="2.78"/><circle cx="373.0" cy="264.6" r="2.78"/><circle cx="373.2" cy="262.8" r="2.78"/><circle cx="373.5" cy="266.2" r="2.78"/><circle cx="373.8" cy="261.1" r="2.78"/><circle cx="374.1" cy="255.8" r="2.78"/><circle cx="374.4" cy="260.7" r="2.78"/><circle cx="374.7" cy="256.7" r="2.78"/><circle cx="374.9" cy="261.4" r="2.78"/><circle cx="375.2" cy="256.9" r="2.78"/><circle cx="375.5" cy="268.7" r="2.78"/><circle cx="375.8" cy="262.1" r="2.78"/><circle cx="376.1" cy="259.8" r="2.78"/><circle cx="376.3" cy="270.2" r="2.78"/><circle cx="376.6" cy="258.7" r="2.78"/><circle cx="376.9" cy="264.2" r="2.78"/><circle cx="377.2" cy="256.0" r="2.78"/><circle cx="377.5" cy="264.0" r="2.78"/><circle cx="377.8" cy="254.1" r="2.78"/><circle cx="378.0" cy="256.0" r="2.78"/><circle cx="378.3" cy="264.2" r="2.78"/><circle cx="378.6" cy="257.9" r="2.78"/><circle cx="378.9" cy="261.2" r="2.78"/><circle cx="379.2" cy="260.2" r="2.78"/><circle cx="379.4" cy="259.4" r="2.78"/><circle cx="379.7" cy="264.6" r="2.78"/><circle cx="380.0" cy="264.1" r="2.78"/><circle cx="380.3" cy="264.3" r="2.78"/><circle cx="380.6" cy="270.2" r="2.78"/><circle cx="380.9" cy="266.4" r="2.78"/><circle cx="381.1" cy="266.1" r="2.78"/><circle cx="381.4" cy="266.4" r="2.78"/><circle cx="381.7" cy="264.7" r="2.78"/><circle cx="382.0" cy="269.9" r="2.78"/><circle cx="382.3" cy="261.7" r="2.78"/><circle cx="382.5" cy="269.7" r="2.78"/><circle cx="382.8" cy="266.7" r="2.78"/><circle cx="383.1" cy="270.6" r="2.78"/><circle cx="383.4" cy="268.2" r="2.78"/><circle cx="383.7" cy="265.0" r="2.78"/><circle cx="384.0" cy="265.3" r="2.78"/><circle cx="384.2" cy="266.9" r="2.78"/><circle cx="384.5" cy="268.9" r="2.78"/><circle cx="384.8" cy="272.3" r="2.78"/><circle cx="385.1" cy="268.3" r="2.78"/><circle cx="385.4" cy="265.1" r="2.78"/><circle cx="385.6" cy="270.6" r="2.78"/><circle cx="385.9" cy="264.7" r="2.78"/><circle cx="386.2" cy="265.2" r="2.78"/><circle cx="386.5" cy="265.1" r="2.78"/><circle cx="386.8" cy="269.4" r="2.78"/><circle cx="387.1" cy="265.6" r="2.78"/><circle cx="387.3" cy="267.4" r="2.78"/><circle cx="387.6" cy="266.2" r="2.78"/><circle cx="387.9" cy="260.8" r="2.78"/><circle cx="388.2" cy="269.1" r="2.78"/><circle cx="388.5" cy="263.8" r="2.78"/><circle cx="388.7" cy="261.0" r="2.78"/><circle cx="389.0" cy="267.2" r="2.78"/><circle cx="389.3" cy="263.1" r="2.78"/><circle cx="389.6" cy="266.7" r="2.78"/><circle cx="389.9" cy="261.0" r="2.78"/><circle cx="390.2" cy="267.6" r="2.78"/><circle cx="390.4" cy="264.0" r="2.78"/><circle cx="390.7" cy="260.6" r="2.78"/><circle cx="391.0" cy="261.5" r="2.78"/><circle cx="391.3" cy="271.7" r="2.78"/><circle cx="391.6" cy="272.1" r="2.78"/><circle cx="391.8" cy="274.6" r="2.78"/><circle cx="392.1" cy="266.3" r="2.78"/><circle cx="392.4" cy="268.3" r="2.78"/><circle cx="392.7" cy="268.8" r="2.78"/><circle cx="393.0" cy="270.5" r="2.78"/><circle cx="393.3" cy="273.7" r="2.78"/><circle cx="393.5" cy="274.6" r="2.78"/><circle cx="393.8" cy="268.1" r="2.78"/><circle cx="394.1" cy="274.6" r="2.78"/><circle cx="394.4" cy="270.2" r="2.78"/><circle cx="394.7" cy="269.0" r="2.78"/><circle cx="394.9" cy="265.7" r="2.78"/><circle cx="395.2" cy="266.5" r="2.78"/><circle cx="395.5" cy="268.0" r="2.78"/><circle cx="395.8" cy="273.0" r="2.78"/><circle cx="396.1" cy="280.5" r="2.78"/><circle cx="396.4" cy="282.6" r="2.78"/><circle cx="396.6" cy="278.9" r="2.78"/><circle cx="396.9" cy="284.3" r="2.78"/><circle cx="397.2" cy="274.9" r="2.78"/><circle cx="397.5" cy="279.7" r="2.78"/><circle cx="397.8" cy="282.2" r="2.78"/><circle cx="398.0" cy="280.7" r="2.78"/><circle cx="398.3" cy="284.9" r="2.78"/><circle cx="398.6" cy="275.3" r="2.78"/><circle cx="398.9" cy="271.9" r="2.78"/><circle cx="399.2" cy="288.3" r="2.78"/><circle cx="399.5" cy="276.5" r="2.78"/><circle cx="399.7" cy="269.1" r="2.78"/><circle cx="400.0" cy="280.1" r="2.78"/><circle cx="400.3" cy="286.5" r="2.78"/><circle cx="400.6" cy="281.9" r="2.78"/><circle cx="400.9" cy="282.8" r="2.78"/><circle cx="401.1" cy="280.5" r="2.78"/><circle cx="401.4" cy="276.6" r="2.78"/><circle cx="401.7" cy="292.8" r="2.78"/><circle cx="402.0" cy="289.4" r="2.78"/><circle cx="402.3" cy="284.3" r="2.78"/><circle cx="402.6" cy="281.4" r="2.78"/><circle cx="402.8" cy="291.1" r="2.78"/><circle cx="403.1" cy="285.3" r="2.78"/><circle cx="403.4" cy="288.5" r="2.78"/><circle cx="403.7" cy="289.3" r="2.78"/><circle cx="404.0" cy="295.5" r="2.78"/><circle cx="404.2" cy="293.1" r="2.78"/><circle cx="404.5" cy="277.8" r="2.78"/><circle cx="404.8" cy="280.8" r="2.78"/><circle cx="405.1" cy="279.0" r="2.78"/><circle cx="405.4" cy="282.3" r="2.78"/><circle cx="405.7" cy="281.9" r="2.78"/><circle cx="405.9" cy="290.4" r="2.78"/><circle cx="406.2" cy="291.3" r="2.78"/><circle cx="406.5" cy="284.9" r="2.78"/><circle cx="406.8" cy="284.1" r="2.78"/><circle cx="407.1" cy="283.4" r="2.78"/><circle cx="407.3" cy="284.1" r="2.78"/><circle cx="407.6" cy="286.9" r="2.78"/><circle cx="407.9" cy="290.7" r="2.78"/><circle cx="408.2" cy="287.6" r="2.78"/><circle cx="408.5" cy="294.6" r="2.78"/><circle cx="408.8" cy="294.3" r="2.78"/><circle cx="409.0" cy="288.4" r="2.78"/><circle cx="409.3" cy="293.4" r="2.78"/><circle cx="409.6" cy="300.0" r="2.78"/><circle cx="409.9" cy="304.0" r="2.78"/><circle cx="410.2" cy="297.1" r="2.78"/><circle cx="410.4" cy="298.5" r="2.78"/><circle cx="410.7" cy="295.4" r="2.78"/><circle cx="411.0" cy="301.6" r="2.78"/><circle cx="411.3" cy="299.9" r="2.78"/><circle cx="411.6" cy="298.4" r="2.78"/><circle cx="411.9" cy="294.0" r="2.78"/><circle cx="412.1" cy="298.3" r="2.78"/><circle cx="412.4" cy="292.4" r="2.78"/><circle cx="412.7" cy="292.6" r="2.78"/><circle cx="413.0" cy="292.8" r="2.78"/><circle cx="413.3" cy="300.5" r="2.78"/><circle cx="413.5" cy="303.3" r="2.78"/><circle cx="413.8" cy="293.3" r="2.78"/><circle cx="414.1" cy="303.5" r="2.78"/><circle cx="414.4" cy="301.8" r="2.78"/><circle cx="414.7" cy="293.9" r="2.78"/><circle cx="415.0" cy="300.4" r="2.78"/><circle cx="415.2" cy="300.6" r="2.78"/><circle cx="415.5" cy="302.7" r="2.78"/><circle cx="415.8" cy="296.1" r="2.78"/><circle cx="416.1" cy="304.9" r="2.78"/><circle cx="416.4" cy="305.9" r="2.78"/><circle cx="416.6" cy="303.3" r="2.78"/><circle cx="416.9" cy="302.0" r="2.78"/><circle cx="417.2" cy="295.3" r="2.78"/><circle cx="417.5" cy="304.4" r="2.78"/><circle cx="417.8" cy="309.5" r="2.78"/><circle cx="418.1" cy="300.7" r="2.78"/><circle cx="418.3" cy="305.2" r="2.78"/><circle cx="418.6" cy="295.3" r="2.78"/><circle cx="418.9" cy="307.6" r="2.78"/><circle cx="419.2" cy="297.6" r="2.78"/><circle cx="419.5" cy="300.7" r="2.78"/><circle cx="419.7" cy="304.6" r="2.78"/><circle cx="420.0" cy="302.7" r="2.78"/><circle cx="420.3" cy="299.4" r="2.78"/><circle cx="420.6" cy="300.0" r="2.78"/><circle cx="420.9" cy="299.1" r="2.78"/><circle cx="421.2" cy="307.0" r="2.78"/><circle cx="421.4" cy="294.8" r="2.78"/><circle cx="421.7" cy="294.8" r="2.78"/><circle cx="422.0" cy="301.7" r="2.78"/><circle cx="422.3" cy="298.9" r="2.78"/><circle cx="422.6" cy="304.7" r="2.78"/><circle cx="422.8" cy="296.1" r="2.78"/><circle cx="423.1" cy="294.1" r="2.78"/><circle cx="423.4" cy="299.4" r="2.78"/><circle cx="423.7" cy="296.5" r="2.78"/><circle cx="424.0" cy="296.1" r="2.78"/><circle cx="424.3" cy="305.5" r="2.78"/><circle cx="424.5" cy="309.7" r="2.78"/><circle cx="424.8" cy="299.5" r="2.78"/><circle cx="425.1" cy="300.2" r="2.78"/><circle cx="425.4" cy="309.4" r="2.78"/><circle cx="425.7" cy="292.6" r="2.78"/><circle cx="425.9" cy="297.4" r="2.78"/><circle cx="426.2" cy="299.3" r="2.78"/><circle cx="426.5" cy="300.4" r="2.78"/><circle cx="426.8" cy="309.3" r="2.78"/><circle cx="427.1" cy="297.2" r="2.78"/><circle cx="427.4" cy="291.7" r="2.78"/><circle cx="427.6" cy="291.6" r="2.78"/><circle cx="427.9" cy="300.5" r="2.78"/><circle cx="428.2" cy="293.6" r="2.78"/><circle cx="428.5" cy="306.9" r="2.78"/><circle cx="428.8" cy="293.6" r="2.78"/><circle cx="429.0" cy="300.0" r="2.78"/><circle cx="429.3" cy="300.0" r="2.78"/><circle cx="429.6" cy="300.8" r="2.78"/><circle cx="429.9" cy="298.4" r="2.78"/><circle cx="430.2" cy="295.5" r="2.78"/><circle cx="430.5" cy="298.7" r="2.78"/><circle cx="430.7" cy="310.2" r="2.78"/><circle cx="431.0" cy="304.1" r="2.78"/><circle cx="431.3" cy="306.4" r="2.78"/><circle cx="431.6" cy="303.4" r="2.78"/><circle cx="431.9" cy="295.7" r="2.78"/><circle cx="432.1" cy="311.7" r="2.78"/><circle cx="432.4" cy="308.4" r="2.78"/><circle cx="432.7" cy="303.7" r="2.78"/><circle cx="433.0" cy="304.1" r="2.78"/><circle cx="433.3" cy="301.9" r="2.78"/><circle cx="433.6" cy="311.1" r="2.78"/><circle cx="433.8" cy="311.3" r="2.78"/><circle cx="434.1" cy="319.3" r="2.78"/><circle cx="434.4" cy="307.5" r="2.78"/><circle cx="434.7" cy="308.6" r="2.78"/><circle cx="435.0" cy="305.1" r="2.78"/><circle cx="435.2" cy="309.5" r="2.78"/><circle cx="435.5" cy="313.9" r="2.78"/><circle cx="435.8" cy="307.7" r="2.78"/><circle cx="436.1" cy="310.2" r="2.78"/><circle cx="436.4" cy="307.9" r="2.78"/><circle cx="436.7" cy="318.3" r="2.78"/><circle cx="436.9" cy="312.8" r="2.78"/><circle cx="437.2" cy="306.4" r="2.78"/><circle cx="437.5" cy="310.9" r="2.78"/><circle cx="437.8" cy="321.1" r="2.78"/><circle cx="438.1" cy="318.2" r="2.78"/><circle cx="438.3" cy="319.5" r="2.78"/><circle cx="438.6" cy="316.8" r="2.78"/><circle cx="438.9" cy="314.6" r="2.78"/><circle cx="439.2" cy="315.9" r="2.78"/><circle cx="439.5" cy="322.0" r="2.78"/><circle cx="439.8" cy="319.7" r="2.78"/><circle cx="440.0" cy="314.6" r="2.78"/><circle cx="440.3" cy="314.8" r="2.78"/><circle cx="440.6" cy="322.2" r="2.78"/><circle cx="440.9" cy="322.7" r="2.78"/><circle cx="441.2" cy="313.6" r="2.78"/><circle cx="441.4" cy="316.5" r="2.78"/><circle cx="441.7" cy="310.8" r="2.78"/><circle cx="442.0" cy="313.2" r="2.78"/><circle cx="442.3" cy="313.4" r="2.78"/><circle cx="442.6" cy="323.5" r="2.78"/><circle cx="442.9" cy="311.5" r="2.78"/><circle cx="443.1" cy="318.6" r="2.78"/><circle cx="443.4" cy="321.0" r="2.78"/><circle cx="443.7" cy="321.0" r="2.78"/><circle cx="444.0" cy="320.4" r="2.78"/><circle cx="444.3" cy="315.8" r="2.78"/><circle cx="444.5" cy="315.2" r="2.78"/><circle cx="444.8" cy="315.6" r="2.78"/><circle cx="445.1" cy="317.7" r="2.78"/><circle cx="445.4" cy="317.1" r="2.78"/><circle cx="445.7" cy="314.3" r="2.78"/><circle cx="446.0" cy="320.5" r="2.78"/><circle cx="446.2" cy="317.1" r="2.78"/><circle cx="446.5" cy="323.0" r="2.78"/><circle cx="446.8" cy="326.2" r="2.78"/><circle cx="447.1" cy="326.6" r="2.78"/><circle cx="447.4" cy="320.0" r="2.78"/><circle cx="447.6" cy="316.0" r="2.78"/><circle cx="447.9" cy="312.8" r="2.78"/><circle cx="448.2" cy="322.1" r="2.78"/><circle cx="448.5" cy="321.6" r="2.78"/><circle cx="448.8" cy="323.0" r="2.78"/><circle cx="449.1" cy="314.1" r="2.78"/><circle cx="449.3" cy="316.1" r="2.78"/><circle cx="449.6" cy="327.8" r="2.78"/><circle cx="449.9" cy="322.8" r="2.78"/><circle cx="450.2" cy="321.2" r="2.78"/><circle cx="450.5" cy="320.7" r="2.78"/><circle cx="450.7" cy="313.5" r="2.78"/><circle cx="451.0" cy="327.3" r="2.78"/><circle cx="451.3" cy="324.4" r="2.78"/><circle cx="451.6" cy="321.0" r="2.78"/><circle cx="451.9" cy="326.3" r="2.78"/><circle cx="452.2" cy="323.8" r="2.78"/><circle cx="452.4" cy="324.2" r="2.78"/><circle cx="452.7" cy="315.5" r="2.78"/><circle cx="453.0" cy="325.7" r="2.78"/><circle cx="453.3" cy="319.7" r="2.78"/><circle cx="453.6" cy="322.4" r="2.78"/><circle cx="453.8" cy="330.2" r="2.78"/><circle cx="454.1" cy="328.9" r="2.78"/><circle cx="454.4" cy="328.4" r="2.78"/><circle cx="454.7" cy="317.5" r="2.78"/><circle cx="455.0" cy="328.3" r="2.78"/><circle cx="455.2" cy="319.5" r="2.78"/><circle cx="455.5" cy="318.3" r="2.78"/><circle cx="455.8" cy="327.3" r="2.78"/><circle cx="456.1" cy="326.0" r="2.78"/><circle cx="456.4" cy="327.2" r="2.78"/><circle cx="456.7" cy="330.9" r="2.78"/><circle cx="456.9" cy="325.8" r="2.78"/><circle cx="457.2" cy="328.0" r="2.78"/><circle cx="457.5" cy="326.0" r="2.78"/><circle cx="457.8" cy="325.8" r="2.78"/><circle cx="458.1" cy="329.4" r="2.78"/><circle cx="458.3" cy="332.6" r="2.78"/><circle cx="458.6" cy="331.3" r="2.78"/><circle cx="458.9" cy="333.1" r="2.78"/><circle cx="459.2" cy="329.2" r="2.78"/><circle cx="459.5" cy="327.6" r="2.78"/><circle cx="459.8" cy="328.1" r="2.78"/><circle cx="460.0" cy="321.7" r="2.78"/><circle cx="460.3" cy="323.7" r="2.78"/><circle cx="460.6" cy="329.5" r="2.78"/><circle cx="460.9" cy="333.2" r="2.78"/><circle cx="461.2" cy="328.9" r="2.78"/><circle cx="461.4" cy="335.7" r="2.78"/><circle cx="461.7" cy="326.4" r="2.78"/><circle cx="462.0" cy="336.2" r="2.78"/><circle cx="462.3" cy="328.2" r="2.78"/><circle cx="462.6" cy="333.7" r="2.78"/><circle cx="462.9" cy="328.9" r="2.78"/><circle cx="463.1" cy="332.8" r="2.78"/><circle cx="463.4" cy="331.9" r="2.78"/><circle cx="463.7" cy="329.0" r="2.78"/><circle cx="464.0" cy="322.9" r="2.78"/><circle cx="464.3" cy="322.7" r="2.78"/><circle cx="464.5" cy="327.8" r="2.78"/><circle cx="464.8" cy="328.0" r="2.78"/><circle cx="465.1" cy="331.9" r="2.78"/><circle cx="465.4" cy="326.4" r="2.78"/><circle cx="465.7" cy="324.2" r="2.78"/><circle cx="466.0" cy="324.2" r="2.78"/><circle cx="466.2" cy="325.1" r="2.78"/><circle cx="466.5" cy="325.5" r="2.78"/><circle cx="466.8" cy="325.9" r="2.78"/><circle cx="467.1" cy="322.8" r="2.78"/><circle cx="467.4" cy="325.4" r="2.78"/><circle cx="467.6" cy="334.9" r="2.78"/><circle cx="467.9" cy="325.6" r="2.78"/><circle cx="468.2" cy="330.2" r="2.78"/><circle cx="468.5" cy="321.9" r="2.78"/><circle cx="468.8" cy="327.4" r="2.78"/><circle cx="469.1" cy="333.3" r="2.78"/><circle cx="469.3" cy="325.6" r="2.78"/><circle cx="469.6" cy="331.0" r="2.78"/><circle cx="469.9" cy="333.2" r="2.78"/><circle cx="470.2" cy="334.0" r="2.78"/><circle cx="470.5" cy="329.2" r="2.78"/><circle cx="470.7" cy="337.2" r="2.78"/><circle cx="471.0" cy="334.2" r="2.78"/><circle cx="471.3" cy="326.6" r="2.78"/><circle cx="471.6" cy="337.0" r="2.78"/><circle cx="471.9" cy="333.4" r="2.78"/><circle cx="472.2" cy="329.3" r="2.78"/><circle cx="472.4" cy="337.6" r="2.78"/><circle cx="472.7" cy="333.6" r="2.78"/><circle cx="473.0" cy="327.1" r="2.78"/><circle cx="473.3" cy="339.9" r="2.78"/><circle cx="473.6" cy="336.9" r="2.78"/><circle cx="473.8" cy="332.9" r="2.78"/><circle cx="474.1" cy="327.2" r="2.78"/><circle cx="474.4" cy="335.1" r="2.78"/><circle cx="474.7" cy="332.5" r="2.78"/><circle cx="475.0" cy="342.7" r="2.78"/><circle cx="475.3" cy="339.6" r="2.78"/><circle cx="475.5" cy="333.0" r="2.78"/><circle cx="475.8" cy="330.8" r="2.78"/><circle cx="476.1" cy="340.1" r="2.78"/><circle cx="476.4" cy="341.3" r="2.78"/><circle cx="476.7" cy="334.0" r="2.78"/><circle cx="476.9" cy="335.4" r="2.78"/><circle cx="477.2" cy="333.0" r="2.78"/><circle cx="477.5" cy="326.6" r="2.78"/><circle cx="477.8" cy="329.1" r="2.78"/><circle cx="478.1" cy="338.7" r="2.78"/><circle cx="478.4" cy="344.9" r="2.78"/><circle cx="478.6" cy="339.6" r="2.78"/><circle cx="478.9" cy="338.9" r="2.78"/><circle cx="479.2" cy="335.6" r="2.78"/><circle cx="479.5" cy="335.5" r="2.78"/><circle cx="479.8" cy="341.3" r="2.78"/><circle cx="480.0" cy="340.5" r="2.78"/><circle cx="480.3" cy="342.0" r="2.78"/><circle cx="480.6" cy="331.5" r="2.78"/><circle cx="480.9" cy="334.6" r="2.78"/><circle cx="481.2" cy="335.3" r="2.78"/><circle cx="481.5" cy="337.5" r="2.78"/><circle cx="481.7" cy="342.1" r="2.78"/><circle cx="482.0" cy="341.2" r="2.78"/><circle cx="482.3" cy="328.9" r="2.78"/><circle cx="482.6" cy="338.4" r="2.78"/><circle cx="482.9" cy="329.2" r="2.78"/><circle cx="483.1" cy="334.0" r="2.78"/><circle cx="483.4" cy="333.4" r="2.78"/><circle cx="483.7" cy="329.6" r="2.78"/><circle cx="484.0" cy="340.2" r="2.78"/><circle cx="484.3" cy="332.8" r="2.78"/><circle cx="484.6" cy="338.9" r="2.78"/><circle cx="484.8" cy="332.7" r="2.78"/><circle cx="485.1" cy="336.2" r="2.78"/><circle cx="485.4" cy="340.2" r="2.78"/><circle cx="485.7" cy="340.2" r="2.78"/><circle cx="486.0" cy="340.2" r="2.78"/><circle cx="486.2" cy="334.9" r="2.78"/><circle cx="486.5" cy="332.4" r="2.78"/><circle cx="486.8" cy="327.5" r="2.78"/><circle cx="487.1" cy="333.6" r="2.78"/><circle cx="487.4" cy="334.8" r="2.78"/><circle cx="487.7" cy="328.2" r="2.78"/><circle cx="487.9" cy="329.9" r="2.78"/><circle cx="488.2" cy="340.2" r="2.78"/><circle cx="488.5" cy="328.6" r="2.78"/><circle cx="488.8" cy="331.6" r="2.78"/><circle cx="489.1" cy="330.0" r="2.78"/><circle cx="489.3" cy="331.9" r="2.78"/><circle cx="489.6" cy="338.9" r="2.78"/><circle cx="489.9" cy="341.1" r="2.78"/><circle cx="490.2" cy="334.4" r="2.78"/><circle cx="490.5" cy="339.7" r="2.78"/><circle cx="490.8" cy="333.6" r="2.78"/><circle cx="491.0" cy="334.8" r="2.78"/><circle cx="491.3" cy="337.6" r="2.78"/><circle cx="491.6" cy="337.3" r="2.78"/><circle cx="491.9" cy="332.6" r="2.78"/><circle cx="492.2" cy="335.2" r="2.78"/><circle cx="492.4" cy="332.1" r="2.78"/><circle cx="492.7" cy="340.5" r="2.78"/><circle cx="493.0" cy="341.8" r="2.78"/><circle cx="493.3" cy="331.1" r="2.78"/><circle cx="493.6" cy="335.5" r="2.78"/><circle cx="493.9" cy="331.9" r="2.78"/><circle cx="494.1" cy="334.2" r="2.78"/><circle cx="494.4" cy="332.9" r="2.78"/><circle cx="494.7" cy="339.5" r="2.78"/><circle cx="495.0" cy="333.3" r="2.78"/><circle cx="495.3" cy="341.2" r="2.78"/><circle cx="495.5" cy="346.8" r="2.78"/><circle cx="495.8" cy="336.1" r="2.78"/><circle cx="496.1" cy="337.0" r="2.78"/><circle cx="496.4" cy="337.2" r="2.78"/><circle cx="496.7" cy="343.4" r="2.78"/><circle cx="497.0" cy="348.2" r="2.78"/><circle cx="497.2" cy="339.2" r="2.78"/><circle cx="497.5" cy="343.7" r="2.78"/><circle cx="497.8" cy="343.1" r="2.78"/><circle cx="498.1" cy="347.4" r="2.78"/><circle cx="498.4" cy="344.4" r="2.78"/><circle cx="498.6" cy="340.7" r="2.78"/><circle cx="498.9" cy="345.0" r="2.78"/><circle cx="499.2" cy="346.8" r="2.78"/><circle cx="499.5" cy="339.5" r="2.78"/><circle cx="499.8" cy="345.5" r="2.78"/><circle cx="500.1" cy="346.7" r="2.78"/><circle cx="500.3" cy="350.0" r="2.78"/><circle cx="500.6" cy="340.1" r="2.78"/><circle cx="500.9" cy="347.1" r="2.78"/><circle cx="501.2" cy="343.9" r="2.78"/><circle cx="501.5" cy="348.3" r="2.78"/><circle cx="501.7" cy="347.0" r="2.78"/><circle cx="502.0" cy="349.4" r="2.78"/><circle cx="502.3" cy="353.0" r="2.78"/><circle cx="502.6" cy="347.5" r="2.78"/><circle cx="502.9" cy="351.4" r="2.78"/><circle cx="503.2" cy="344.7" r="2.78"/><circle cx="503.4" cy="347.0" r="2.78"/><circle cx="503.7" cy="346.1" r="2.78"/><circle cx="504.0" cy="351.5" r="2.78"/><circle cx="504.3" cy="347.5" r="2.78"/><circle cx="504.6" cy="359.0" r="2.78"/><circle cx="504.8" cy="365.6" r="2.78"/><circle cx="505.1" cy="357.4" r="2.78"/><circle cx="505.4" cy="362.3" r="2.78"/><circle cx="505.7" cy="369.1" r="2.78"/><circle cx="506.0" cy="354.4" r="2.78"/><circle cx="506.3" cy="354.5" r="2.78"/><circle cx="506.5" cy="366.8" r="2.78"/><circle cx="506.8" cy="371.0" r="2.78"/><circle cx="507.1" cy="369.8" r="2.78"/><circle cx="507.4" cy="358.6" r="2.78"/><circle cx="507.7" cy="362.1" r="2.78"/><circle cx="507.9" cy="363.4" r="2.78"/><circle cx="508.2" cy="366.5" r="2.78"/><circle cx="508.5" cy="355.0" r="2.78"/><circle cx="508.8" cy="364.4" r="2.78"/><circle cx="509.1" cy="367.1" r="2.78"/><circle cx="509.4" cy="362.4" r="2.78"/><circle cx="509.6" cy="360.9" r="2.78"/><circle cx="509.9" cy="359.7" r="2.78"/><circle cx="510.2" cy="356.1" r="2.78"/><circle cx="510.5" cy="357.0" r="2.78"/><circle cx="510.8" cy="358.6" r="2.78"/><circle cx="511.0" cy="356.8" r="2.78"/><circle cx="511.3" cy="360.7" r="2.78"/><circle cx="511.6" cy="357.4" r="2.78"/><circle cx="511.9" cy="366.0" r="2.78"/><circle cx="512.2" cy="358.0" r="2.78"/><circle cx="512.5" cy="363.8" r="2.78"/><circle cx="512.7" cy="362.0" r="2.78"/><circle cx="513.0" cy="359.9" r="2.78"/><circle cx="513.3" cy="368.7" r="2.78"/><circle cx="513.6" cy="366.5" r="2.78"/><circle cx="513.9" cy="371.0" r="2.78"/><circle cx="514.1" cy="375.6" r="2.78"/><circle cx="514.4" cy="368.3" r="2.78"/><circle cx="514.7" cy="370.5" r="2.78"/><circle cx="515.0" cy="374.9" r="2.78"/><circle cx="515.3" cy="361.1" r="2.78"/><circle cx="515.6" cy="372.0" r="2.78"/><circle cx="515.8" cy="367.3" r="2.78"/><circle cx="516.1" cy="374.1" r="2.78"/><circle cx="516.4" cy="367.6" r="2.78"/><circle cx="516.7" cy="367.2" r="2.78"/><circle cx="517.0" cy="379.8" r="2.78"/><circle cx="517.2" cy="380.7" r="2.78"/><circle cx="517.5" cy="381.7" r="2.78"/><circle cx="517.8" cy="377.2" r="2.78"/><circle cx="518.1" cy="379.1" r="2.78"/><circle cx="518.4" cy="376.1" r="2.78"/><circle cx="518.7" cy="374.1" r="2.78"/><circle cx="518.9" cy="380.7" r="2.78"/><circle cx="519.2" cy="382.0" r="2.78"/><circle cx="519.5" cy="380.3" r="2.78"/><circle cx="519.8" cy="369.3" r="2.78"/><circle cx="520.1" cy="386.2" r="2.78"/><circle cx="520.3" cy="383.2" r="2.78"/><circle cx="520.6" cy="385.8" r="2.78"/><circle cx="520.9" cy="376.6" r="2.78"/><circle cx="521.2" cy="367.5" r="2.78"/><circle cx="521.5" cy="381.1" r="2.78"/><circle cx="521.8" cy="369.8" r="2.78"/><circle cx="522.0" cy="381.9" r="2.78"/><circle cx="522.3" cy="368.2" r="2.78"/><circle cx="522.6" cy="365.6" r="2.78"/><circle cx="522.9" cy="383.9" r="2.78"/><circle cx="523.2" cy="377.2" r="2.78"/><circle cx="523.4" cy="370.5" r="2.78"/><circle cx="523.7" cy="366.9" r="2.78"/><circle cx="524.0" cy="378.2" r="2.78"/><circle cx="524.3" cy="383.2" r="2.78"/><circle cx="524.6" cy="383.0" r="2.78"/><circle cx="524.9" cy="382.8" r="2.78"/><circle cx="525.1" cy="381.3" r="2.78"/><circle cx="525.4" cy="373.0" r="2.78"/><circle cx="525.7" cy="380.6" r="2.78"/><circle cx="526.0" cy="362.7" r="2.78"/><circle cx="526.3" cy="371.3" r="2.78"/><circle cx="526.5" cy="381.5" r="2.78"/><circle cx="526.8" cy="369.9" r="2.78"/><circle cx="527.1" cy="368.9" r="2.78"/><circle cx="527.4" cy="370.3" r="2.78"/><circle cx="527.7" cy="381.6" r="2.78"/><circle cx="528.0" cy="381.8" r="2.78"/><circle cx="528.2" cy="380.7" r="2.78"/><circle cx="528.5" cy="381.4" r="2.78"/><circle cx="528.8" cy="382.3" r="2.78"/><circle cx="529.1" cy="382.5" r="2.78"/><circle cx="529.4" cy="374.9" r="2.78"/><circle cx="529.6" cy="377.3" r="2.78"/><circle cx="529.9" cy="373.7" r="2.78"/><circle cx="530.2" cy="383.1" r="2.78"/><circle cx="530.5" cy="374.4" r="2.78"/><circle cx="530.8" cy="380.4" r="2.78"/><circle cx="531.1" cy="378.3" r="2.78"/><circle cx="531.3" cy="381.1" r="2.78"/><circle cx="531.6" cy="378.2" r="2.78"/><circle cx="531.9" cy="376.1" r="2.78"/><circle cx="532.2" cy="368.9" r="2.78"/><circle cx="532.5" cy="370.8" r="2.78"/><circle cx="532.7" cy="369.3" r="2.78"/><circle cx="533.0" cy="372.4" r="2.78"/><circle cx="533.3" cy="377.7" r="2.78"/><circle cx="533.6" cy="375.9" r="2.78"/><circle cx="533.9" cy="374.7" r="2.78"/><circle cx="534.2" cy="374.8" r="2.78"/><circle cx="534.4" cy="375.8" r="2.78"/><circle cx="534.7" cy="370.6" r="2.78"/><circle cx="535.0" cy="380.8" r="2.78"/><circle cx="535.3" cy="377.3" r="2.78"/><circle cx="535.6" cy="379.0" r="2.78"/><circle cx="535.8" cy="374.1" r="2.78"/><circle cx="536.1" cy="379.1" r="2.78"/><circle cx="536.4" cy="375.1" r="2.78"/><circle cx="536.7" cy="372.7" r="2.78"/><circle cx="537.0" cy="384.7" r="2.78"/><circle cx="537.3" cy="380.9" r="2.78"/><circle cx="537.5" cy="377.9" r="2.78"/><circle cx="537.8" cy="372.7" r="2.78"/><circle cx="538.1" cy="382.3" r="2.78"/><circle cx="538.4" cy="374.2" r="2.78"/><circle cx="538.7" cy="374.2" r="2.78"/><circle cx="538.9" cy="374.5" r="2.78"/><circle cx="539.2" cy="373.1" r="2.78"/><circle cx="539.5" cy="372.3" r="2.78"/><circle cx="539.8" cy="384.5" r="2.78"/><circle cx="540.1" cy="387.6" r="2.78"/><circle cx="540.4" cy="376.1" r="2.78"/><circle cx="540.6" cy="373.4" r="2.78"/><circle cx="540.9" cy="380.2" r="2.78"/><circle cx="541.2" cy="379.6" r="2.78"/><circle cx="541.5" cy="376.7" r="2.78"/><circle cx="541.8" cy="376.5" r="2.78"/><circle cx="542.0" cy="389.8" r="2.78"/><circle cx="542.3" cy="379.5" r="2.78"/><circle cx="542.6" cy="372.0" r="2.78"/><circle cx="542.9" cy="381.4" r="2.78"/><circle cx="543.2" cy="384.7" r="2.78"/><circle cx="543.5" cy="377.2" r="2.78"/><circle cx="543.7" cy="386.3" r="2.78"/><circle cx="544.0" cy="388.5" r="2.78"/><circle cx="544.3" cy="377.5" r="2.78"/><circle cx="544.6" cy="382.7" r="2.78"/><circle cx="544.9" cy="385.0" r="2.78"/><circle cx="545.1" cy="371.2" r="2.78"/><circle cx="545.4" cy="374.1" r="2.78"/><circle cx="545.7" cy="374.8" r="2.78"/><circle cx="546.0" cy="374.6" r="2.78"/><circle cx="546.3" cy="379.3" r="2.78"/><circle cx="546.6" cy="384.4" r="2.78"/><circle cx="546.8" cy="383.6" r="2.78"/><circle cx="547.1" cy="393.0" r="2.78"/><circle cx="547.4" cy="389.7" r="2.78"/><circle cx="547.7" cy="383.4" r="2.78"/><circle cx="548.0" cy="390.2" r="2.78"/><circle cx="548.2" cy="386.5" r="2.78"/><circle cx="548.5" cy="380.7" r="2.78"/><circle cx="548.8" cy="393.0" r="2.78"/><circle cx="549.1" cy="384.3" r="2.78"/><circle cx="549.4" cy="391.0" r="2.78"/><circle cx="549.7" cy="389.9" r="2.78"/><circle cx="549.9" cy="386.4" r="2.78"/><circle cx="550.2" cy="391.1" r="2.78"/><circle cx="550.5" cy="387.4" r="2.78"/><circle cx="550.8" cy="392.6" r="2.78"/><circle cx="551.1" cy="391.0" r="2.78"/><circle cx="551.3" cy="395.0" r="2.78"/><circle cx="551.6" cy="396.2" r="2.78"/><circle cx="551.9" cy="393.4" r="2.78"/><circle cx="552.2" cy="389.0" r="2.78"/><circle cx="552.5" cy="389.7" r="2.78"/><circle cx="552.8" cy="391.4" r="2.78"/><circle cx="553.0" cy="398.3" r="2.78"/><circle cx="553.3" cy="394.3" r="2.78"/><circle cx="553.6" cy="391.7" r="2.78"/><circle cx="105.6" cy="99.0" r="2.78"/><circle cx="122.0" cy="116.0" r="2.78"/><circle cx="150.4" cy="123.6" r="2.78"/><circle cx="179.0" cy="147.6" r="2.78"/><circle cx="202.4" cy="167.4" r="2.78"/><circle cx="223.0" cy="182.0" r="2.78"/><circle cx="317.6" cy="248.0" r="2.78"/><circle cx="321.4" cy="247.0" r="2.78"/><circle cx="347.6" cy="260.0" r="2.78"/><circle cx="386.0" cy="278.0" r="2.78"/><circle cx="386.0" cy="283.6" r="2.78"/><circle cx="385.6" cy="288.4" r="2.78"/><circle cx="393.6" cy="284.0" r="2.78"/><circle cx="396.4" cy="288.0" r="2.78"/><circle cx="409.4" cy="308.0" r="2.78"/><circle cx="410.0" cy="313.4" r="2.78"/><circle cx="450.0" cy="340.0" r="2.78"/><circle cx="463.0" cy="340.4" r="2.78"/><circle cx="490.0" cy="352.4" r="2.78"/><circle cx="550.4" cy="410.4" r="2.78"/><circle cx="103.4" cy="74.4" r="2.78"/></g>
<rect x="80.5" y="58.5" width="496" height="369" fill="none" stroke="#000" stroke-width="1"/>
<g stroke="#000" stroke-width="1"><line x1="75" x2="80" y1="81.5" y2="81.5"/><line x1="75" x2="80" y1="126.5" y2="126.5"/><line x1="75" x2="80" y1="171.5" y2="171.5"/><line x1="75" x2="80" y1="217.5" y2="217.5"/><line x1="75" x2="80" y1="262.5" y2="262.5"/><line x1="75" x2="80" y1="307.5" y2="307.5"/><line x1="75" x2="80" y1="352.5" y2="352.5"/><line x1="75" x2="80" y1="397.5" y2="397.5"/><line x1="178.5" x2="178.5" y1="428" y2="433"/><line x1="281.5" x2="281.5" y1="428" y2="433"/><line x1="384.5" x2="384.5" y1="428" y2="433"/><line x1="487.5" x2="487.5" y1="428" y2="433"/></g>
<g font-size="13.89px" fill="#000"><text x="70.6" y="86.7" text-anchor="end" letter-spacing="-0.2">0.00</text><text x="70.6" y="131.8" text-anchor="end" letter-spacing="-0.2">−0.01</text><text x="70.6" y="177.0" text-anchor="end" letter-spacing="-0.2">−0.02</text><text x="70.6" y="222.1" text-anchor="end" letter-spacing="-0.2">−0.03</text><text x="70.6" y="267.3" text-anchor="end" letter-spacing="-0.2">−0.04</text><text x="70.6" y="312.5" text-anchor="end" letter-spacing="-0.2">−0.05</text><text x="70.6" y="357.6" text-anchor="end" letter-spacing="-0.2">−0.06</text><text x="70.6" y="402.8" text-anchor="end" letter-spacing="-0.2">−0.07</text><text x="178.5" y="447.8" text-anchor="middle">2007</text><text x="281.5" y="447.8" text-anchor="middle">2008</text><text x="384.5" y="447.8" text-anchor="middle">2009</text><text x="487.5" y="447.8" text-anchor="middle">2010</text><text transform="translate(20.3,244.4) rotate(-90)" text-anchor="middle">m</text></g>
<text x="328" y="49.3" text-anchor="middle" font-size="16.67px" fill="#000">NEVA E</text>
<rect x="377.6" y="65.3" width="192" height="25.2" rx="2.8" ry="2.8" fill="#ffffff" fill-opacity="0.8" stroke="#cccccc" stroke-opacity="0.8" stroke-width="1.1"/>
<circle cx="397.5" cy="76.5" r="2.78" fill="#ff0000"/>
<text x="425.8" y="81.1" font-size="13.89px" letter-spacing="0.15" fill="#000">repro2018a (IGS14)</text>
</svg>
</body>
</html>
